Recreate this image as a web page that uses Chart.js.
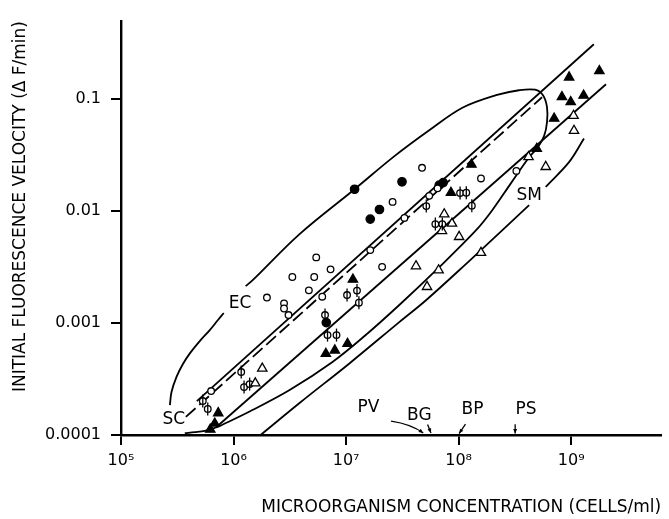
<!DOCTYPE html>
<html>
<head>
<meta charset="utf-8">
<script src="https://cdn.jsdelivr.net/npm/chart.js@4/dist/chart.umd.min.js"></script>
<style>
  html, body { margin: 0; padding: 0; background: #fff; }
  canvas { display: block; }
</style>
</head>
<body>
<canvas id="chart" width="669" height="519"></canvas>
<script>
// axes
const xTicks      = [1e5, 1e6, 1e7, 1e8, 1e9];
const xTickLabels = ['10⁵', '10⁶', '10⁷', '10⁸', '10⁹'];
const yTicks      = [0.0001, 0.001, 0.01, 0.1];
const yTickLabels = ['0.0001', '0.001', '0.01', '0.1'];

// open circles
const openCircX = [4.73e7, 2.59e7, 3.30e7, 1.64e7, 2.09e7, 5.43e6, 7.28e6, 3.33e6, 5.21e6, 4.67e6,
                   1.98e6, 6.14e6, 5.48e7, 6.50e7, 1.58e8, 3.26e8, 2.81e6, 2.81e6, 3.08e6, 6.32e5];
const openCircY = [0.0244, 0.0121, 0.0087, 0.00449, 0.00318, 0.00386, 0.00302, 0.00258, 0.00258, 0.00196,
                   0.00169, 0.00172, 0.0137, 0.0160, 0.0196, 0.0229, 0.00150, 0.00135, 0.00118, 0.000247];

// filled circles
const fillCircX = [1.19e7, 3.14e7, 1.98e7, 1.64e7, 7.29e7, 6.73e7, 6.67e6];
const fillCircY = [0.0157, 0.0183, 0.01035, 0.00849, 0.0180, 0.0171, 0.00101];

// circles with a bar
const barCircX = [5.16e7, 1.03e8, 1.17e8, 1.31e8, 6.21e7, 7.16e7, 1.25e7, 1.02e7, 1.30e7,
                  6.50e6, 6.84e6, 8.22e6, 1.17e6, 1.24e6, 1.39e6, 5.33e5, 5.90e5];
const barCircY = [0.0111, 0.0145, 0.0146, 0.0112, 0.00766, 0.00766, 0.00195, 0.00178, 0.00152,
                  0.00118, 0.000781, 0.000781, 0.000365, 0.000268, 0.000285, 0.000201, 0.000171];

// filled triangles
const fillTriX = [1.78e9, 9.59e8, 8.28e8, 9.91e8, 1.29e9, 7.06e8, 4.95e8, 1.30e8, 8.55e7,
                  1.15e7, 6.61e6, 7.94e6, 1.03e7, 7.31e5, 6.81e5, 6.21e5];
const fillTriY = [0.179, 0.157, 0.105, 0.0946, 0.108, 0.0673, 0.0362, 0.0261, 0.0146,
                  0.00245, 0.000532, 0.000571, 0.000655, 0.000157, 0.000127, 0.000112];

// open triangles
const openTriX = [1.05e9, 1.06e9, 5.94e8, 4.18e8, 7.45e7, 8.73e7, 7.11e7, 1.01e8, 1.58e8,
                  4.18e7, 6.64e7, 5.24e7, 1.80e6, 1.56e6];
const openTriY = [0.0713, 0.0524, 0.0249, 0.0305, 0.0094, 0.00776, 0.00667, 0.0059, 0.00425,
                  0.00323, 0.00297, 0.00211, 0.000393, 0.00029];

// EC envelope: left side (below label), upper side + lower side, bottom piece
const ecLeftX  = [2.72e5, 2.81e5, 3.12e5, 3.55e5, 4.09e5, 5.01e5, 6.15e5, 7.24e5, 8.18e5];
const ecLeftY  = [1.85e-4, 2.42e-4, 3.32e-4, 4.31e-4, 5.36e-4, 6.90e-4, 8.66e-4, 1.06e-3, 1.23e-3];
const ecLoopX  = [1.28e6, 1.48e6, 3.86e6, 1.19e7, 2.69e7, 5.48e7, 1.08e8, 2.15e8, 3.44e8, 4.78e8,
                  5.62e8, 6.10e8, 6.10e8, 5.74e8, 4.98e8, 4.23e8, 2.92e8, 1.99e8, 1.43e8, 6.73e7,
                  2.97e7, 1.46e7, 7.57e6, 3.15e6, 1.39e6, 7.24e5];
const ecLoopY  = [2.14e-3, 2.42e-3, 6.24e-3, 0.0157, 0.0310, 0.0528, 0.0839, 0.1086, 0.1203, 0.1216,
                  0.1086, 0.0849, 0.0623, 0.0468, 0.0365, 0.0303, 0.0178, 0.0102, 0.00676, 0.00316,
                  0.00145, 0.000766, 0.000449, 0.000252, 0.000162, 0.000118];
const ecBaseX  = [3.69e5, 4.53e5, 5.56e5, 7.24e5];
const ecBaseY  = [1.04e-4, 1.06e-4, 1.09e-4, 1.18e-4];

// SC pair (solid and dashed) and the middle line
const scSolidX = [4.72e5, 1.59e9];
const scSolidY = [2.01e-4, 0.310];
const scDashX  = [3.77e5, 5.51e8];
const scDashY  = [1.45e-4, 0.1042];
const midX     = [7.05e5, 2.04e9];
const midY     = [1.18e-4, 0.136];

// SM curve, broken by its label
const smLowX  = [1.74e6, 3.86e6, 1.07e7, 2.97e7, 5.13e7, 1.24e8, 2.45e8, 4.23e8];
const smLowY  = [1e-4, 1.93e-4, 4.36e-4, 1.02e-3, 1.60e-3, 3.58e-3, 6.76e-3, 0.01132];
const smHighX = [5.94e8, 9.57e8, 1.30e9];
const smHighY = [0.0165, 0.0274, 0.0446];

// labels
const noteText = ['EC', 'SC', 'SM', 'PV', 'BG', 'BP', 'PS'];
const noteX    = [1.14e6, 2.95e5, 4.23e8, 1.58e7, 4.48e7, 1.33e8, 3.97e8];
const noteY    = [1.48e-3, 1.36e-4, 0.0139, 1.76e-4, 1.48e-4, 1.67e-4, 1.67e-4];

// arrows to the x axis
const arrowX = [[2.51e7, 3.80e7, 4.85e7], [5.30e7, 5.68e7], [1.15e8, 1.01e8], [3.18e8, 3.18e8]];
const arrowY = [[1.33e-4, 1.25e-4, 1.04e-4], [1.24e-4, 1.04e-4], [1.25e-4, 1.03e-4], [1.25e-4, 1.03e-4]];

const INK = '#000';
const pts = (xs, ys) => xs.map((x, i) => ({ x, y: ys[i] }));

function curve(xs, ys, extra = {}) {
  return {
    data: pts(xs, ys), showLine: true, pointRadius: 0, borderColor: INK,
    borderWidth: 1.8, tension: 0.35, order: 1, clip: false, ...extra,
  };
}

function marks(xs, ys, style, radius, fill, extra = {}) {
  return {
    data: pts(xs, ys), showLine: false, pointStyle: style, pointRadius: radius,
    pointBorderColor: INK, pointBackgroundColor: fill, pointBorderWidth: 1.3,
    order: 0, clip: false, ...extra,
  };
}

const notes = {
  id: 'notes',
  afterDatasetsDraw(chart) {
    const { ctx, scales: { x, y } } = chart;
    ctx.save();
    ctx.fillStyle = INK;
    ctx.strokeStyle = INK;
    ctx.font = '17px "DejaVu Sans"';
    ctx.textAlign = 'center';
    ctx.textBaseline = 'middle';
    noteText.forEach((t, i) => ctx.fillText(t, x.getPixelForValue(noteX[i]), y.getPixelForValue(noteY[i])));

    ctx.lineWidth = 1.3;
    arrowX.forEach((xs, i) => {
      const p = xs.map((v, j) => [x.getPixelForValue(v), y.getPixelForValue(arrowY[i][j])]);
      ctx.beginPath();
      ctx.moveTo(p[0][0], p[0][1]);
      if (p.length === 3) ctx.quadraticCurveTo(p[1][0], p[1][1], p[2][0], p[2][1]);
      else ctx.lineTo(p[1][0], p[1][1]);
      ctx.stroke();
      const [ax, ay] = p[p.length - 1];
      const [bx, by] = p[p.length - 2];
      const a = Math.atan2(ay - by, ax - bx);
      ctx.beginPath();
      ctx.moveTo(ax, ay);
      ctx.lineTo(ax - 5 * Math.cos(a - 0.4), ay - 5 * Math.sin(a - 0.4));
      ctx.lineTo(ax - 5 * Math.cos(a + 0.4), ay - 5 * Math.sin(a + 0.4));
      ctx.closePath();
      ctx.fill();
    });
    ctx.restore();
  },
};

Chart.defaults.font.family = '"DejaVu Sans"';
Chart.defaults.color = INK;

const axisCommon = {
  type: 'logarithmic',
  grid:   { drawOnChartArea: false, drawTicks: true, tickLength: 10, color: INK, lineWidth: 2 },
  border: { display: true, color: INK, width: 2.4 },
};

new Chart(document.getElementById('chart'), {
  type: 'scatter',
  data: {
    datasets: [
      marks(barCircX, barCircY, 'line', 6.5, INK, { rotation: 90 }),
      marks(barCircX, barCircY, 'circle', 3.3, '#fff', { order: 0.5 }),
      marks(openCircX, openCircY, 'circle', 3.3, '#fff'),
      marks(fillCircX, fillCircY, 'circle', 4.2, INK),
      marks(fillTriX, fillTriY, 'triangle', 5.4, INK),
      marks(openTriX, openTriY, 'triangle', 5.4, '#fff'),
      curve(ecLeftX, ecLeftY),
      curve(ecLoopX, ecLoopY),
      curve(ecBaseX, ecBaseY),
      curve(scSolidX, scSolidY, { tension: 0 }),
      curve(scDashX, scDashY, { tension: 0, borderDash: [13, 5] }),
      curve(midX, midY, { tension: 0 }),
      curve(smLowX, smLowY),
      curve(smHighX, smHighY),
    ],
  },
  options: {
    responsive: false,
    animation: false,
    events: [],
    layout: { padding: { top: 21, right: 7, left: 0, bottom: 0 } },
    plugins: { legend: { display: false }, tooltip: { enabled: false } },
    scales: {
      x: {
        ...axisCommon,
        min: 1e5,
        max: Math.pow(10, 9.8),
        afterBuildTicks: s => { s.ticks = xTicks.map(v => ({ value: v })); },
        afterFit: s => { s.height = 84; },
        ticks: { autoSkip: false, maxRotation: 0, padding: 6, font: { size: 16 }, color: INK,
                 callback: (v, i) => xTickLabels[i] },
        title: { display: true, text: 'MICROORGANISM CONCENTRATION (CELLS/ml)', align: 'end',
                 font: { size: 17 }, color: INK, padding: { top: 0, bottom: 1 } },
      },
      y: {
        ...axisCommon,
        min: 0.0001,
        max: 0.5,
        afterBuildTicks: s => { s.ticks = yTicks.map(v => ({ value: v })); },
        afterFit: s => { s.width = 121; },
        ticks: { autoSkip: false, padding: 10, font: { size: 16 }, color: INK,
                 callback: (v, i) => yTickLabels[i] },
        title: { display: true, text: 'INITIAL FLUORESCENCE VELOCITY (Δ F/min)', align: 'end',
                 font: { size: 17 }, color: INK, padding: { top: 10, bottom: 0 } },
      },
    },
  },
  plugins: [notes],
});
</script>
</body>
</html>
